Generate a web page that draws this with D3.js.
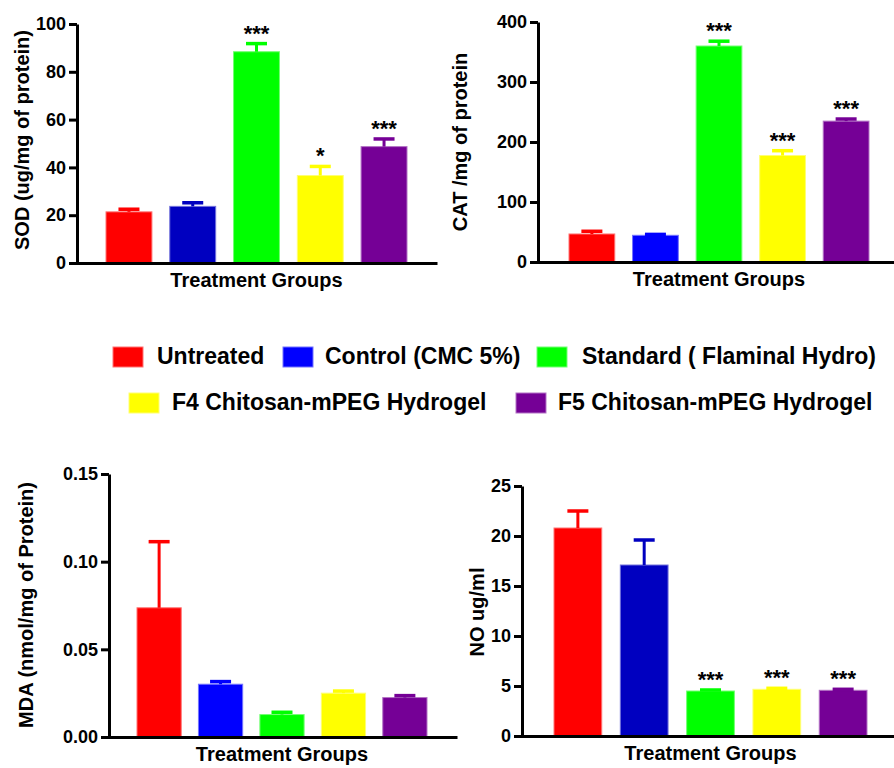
<!DOCTYPE html>
<meta charset="utf-8">
<style>
body { margin: 0; background: #fff; }
svg { display: block; font-family: "Liberation Sans", Arial, sans-serif; font-weight: bold; }
.axis path, .axis line { stroke: #000; stroke-width: 3px; }
.axis text { font-size: 18px; font-weight: bold; fill: #000; font-family: "Liberation Sans", Arial, sans-serif; }
.title { font-size: 20px; fill: #000; }
.star { font-size: 22px; fill: #000; }
.legend text { font-size: 23px; fill: #000; }
</style>
<svg width="894" height="768"></svg>
<script src="https://cdnjs.cloudflare.com/ajax/libs/d3/7.8.5/d3.min.js"></script>
<script>

// groups and colours
var groups = ["Untreated", "Control (CMC 5%)", "Standard ( Flaminal Hydro)", "F4 Chitosan-mPEG Hydrogel", "F5 Chitosan-mPEG Hydrogel"];
var colors = ["#ff0000", "#0000ff", "#00ff00", "#ffff00", "#750096"];
var darkBlue = "#0000c0";

// SOD (ug/mg of protein)
var sodMean = [21.4, 23.7, 88.4, 36.6, 48.7];
var sodErr  = [1.1, 1.5, 3.4, 3.8, 3.2];
var sodStars = ["", "", "***", "*", "***"];
var sodTicks = [0, 20, 40, 60, 80, 100];

// CAT /mg of protein
var catMean = [46.7, 44.5, 360, 177.5, 234.8];
var catErr  = [4.5, 1.5, 8, 8, 3.5];
var catStars = ["", "", "***", "***", "***"];
var catTicks = [0, 100, 200, 300, 400];

// MDA (nmol/mg of Protein)
var mdaMean = [0.0737, 0.0301, 0.0128, 0.0250, 0.0225];
var mdaErr  = [0.0377, 0.0015, 0.0013, 0.0012, 0.0011];
var mdaStars = ["", "", "", "", ""];
var mdaTicks = [0, 0.05, 0.10, 0.15];

// NO ug/ml
var noMean = [20.8, 17.1, 4.5, 4.67, 4.57];
var noErr  = [1.7, 2.5, 0.1, 0.1, 0.1];
var noStars = ["", "", "***", "***", "***"];
var noTicks = [0, 5, 10, 15, 20, 25];

var svg = d3.select("svg");

// panel layout: axis position, plot extent, label placement
var panels = [
  {mean: sodMean, err: sodErr, stars: sodStars, ticks: sodTicks, max: 100, fmt: d3.format("d"),
   ax: 77, xEnd: 437, y0: 263, yTop: 24, b0: 106, b1: 407, ylab: "SOD (ug/mg of protein)", ylx: 29, yly: 140, blue: darkBlue},
  {mean: catMean, err: catErr, stars: catStars, ticks: catTicks, max: 400, fmt: d3.format("d"),
   ax: 538, xEnd: 894, y0: 262, yTop: 22, b0: 569, b1: 869, ylab: "CAT /mg of protein", ylx: 467, yly: 142, blue: "#0000ff"},
  {mean: mdaMean, err: mdaErr, stars: mdaStars, ticks: mdaTicks, max: 0.15, fmt: d3.format(".2f"),
   ax: 109, xEnd: 457, y0: 737, yTop: 474, b0: 137, b1: 427, ylab: "MDA (nmol/mg of Protein)", ylx: 33, yly: 605, blue: "#0000ff"},
  {mean: noMean, err: noErr, stars: noStars, ticks: noTicks, max: 25, fmt: d3.format("d"),
   ax: 522, xEnd: 894, y0: 736, yTop: 486, b0: 554, b1: 867, ylab: "NO ug/ml", ylx: 484, yly: 612, blue: darkBlue}
];

panels.forEach(function(p) {
  var y = d3.scaleLinear().domain([0, p.max]).range([p.y0, p.yTop]);
  var x = d3.scaleBand().domain(d3.range(groups.length))
      .paddingInner(0.28).paddingOuter(0.14);
  var step = (p.b1 - p.b0) / (groups.length - 0.28);
  x.range([p.b0 - step * 0.14, p.b1 + step * 0.14]);

  var g = svg.append("g");
  var fill = function(i) { return i === 1 ? p.blue : colors[i]; };

  // bars
  g.selectAll("rect.bar")
    .data(p.mean)
    .enter().append("rect")
      .attr("class", "bar")
      .attr("x", function(d, i) { return x(i); })
      .attr("y", function(d) { return y(d); })
      .attr("width", x.bandwidth())
      .attr("height", function(d) { return p.y0 - y(d); })
      .attr("fill", function(d, i) { return fill(i); })
      .attr("stroke", function(d, i) { return d3.interpolateRgb(fill(i), "#fff")(0.45); })
      .attr("stroke-width", 1);

  // error bars (upper only)
  var eb = g.selectAll("g.err")
    .data(p.mean)
    .enter().append("g")
      .attr("class", "err");
  eb.append("line")
      .attr("x1", function(d, i) { return x(i) + x.bandwidth() / 2; })
      .attr("x2", function(d, i) { return x(i) + x.bandwidth() / 2; })
      .attr("y1", function(d) { return y(d); })
      .attr("y2", function(d, i) { return y(d + p.err[i]); })
      .attr("stroke", function(d, i) { return fill(i); })
      .attr("stroke-width", 3);
  eb.append("line")
      .attr("x1", function(d, i) { return x(i) + x.bandwidth() / 2 - 10.5; })
      .attr("x2", function(d, i) { return x(i) + x.bandwidth() / 2 + 10.5; })
      .attr("y1", function(d, i) { return y(d + p.err[i]); })
      .attr("y2", function(d, i) { return y(d + p.err[i]); })
      .attr("stroke", function(d, i) { return fill(i); })
      .attr("stroke-width", 3.5);

  // significance stars
  g.selectAll("text.star")
    .data(p.stars)
    .enter().append("text")
      .attr("class", "star")
      .attr("x", function(d, i) { return x(i) + x.bandwidth() / 2; })
      .attr("y", function(d, i) { return y(p.mean[i] + p.err[i]) - 3; })
      .attr("text-anchor", "middle")
      .text(function(d) { return d; });

  // y axis
  g.append("g")
      .attr("class", "axis")
      .attr("transform", "translate(" + p.ax + ",0)")
      .call(d3.axisLeft(y).tickValues(p.ticks).tickFormat(p.fmt).tickSize(8).tickSizeOuter(0).tickPadding(3));

  // x axis line
  var xl = d3.scaleLinear().range([p.ax - 1.5, p.xEnd]);
  g.append("g")
      .attr("class", "axis")
      .attr("transform", "translate(0," + p.y0 + ")")
      .call(d3.axisBottom(xl).tickValues([]).tickSizeOuter(0));

  g.append("text")
      .attr("class", "title")
      .attr("x", (p.b0 + p.b1) / 2)
      .attr("y", p.y0 + 24)
      .attr("text-anchor", "middle")
      .text("Treatment Groups");

  g.append("text")
      .attr("class", "title")
      .attr("transform", "translate(" + p.ylx + "," + p.yly + ") rotate(-90)")
      .attr("text-anchor", "middle")
      .text(p.ylab);
});

// legend, two rows
var legendPos = [
  {x: 113, y: 347, tx: 157, ty: 364},
  {x: 283, y: 347, tx: 325, ty: 364},
  {x: 537, y: 347, tx: 582, ty: 364},
  {x: 129, y: 393, tx: 172, ty: 410},
  {x: 516, y: 393, tx: 558, ty: 410}
];

var legend = svg.append("g").attr("class", "legend");
var item = legend.selectAll("g")
  .data(groups)
  .enter().append("g");
item.append("rect")
    .attr("x", function(d, i) { return legendPos[i].x; })
    .attr("y", function(d, i) { return legendPos[i].y; })
    .attr("width", 30)
    .attr("height", 20)
    .attr("fill", function(d, i) { return colors[i]; })
    .attr("stroke", function(d, i) { return d3.interpolateRgb(colors[i], "#fff")(0.45); })
    .attr("stroke-width", 1);
item.append("text")
    .attr("x", function(d, i) { return legendPos[i].tx; })
    .attr("y", function(d, i) { return legendPos[i].ty; })
    .text(function(d) { return d; });

</script>
